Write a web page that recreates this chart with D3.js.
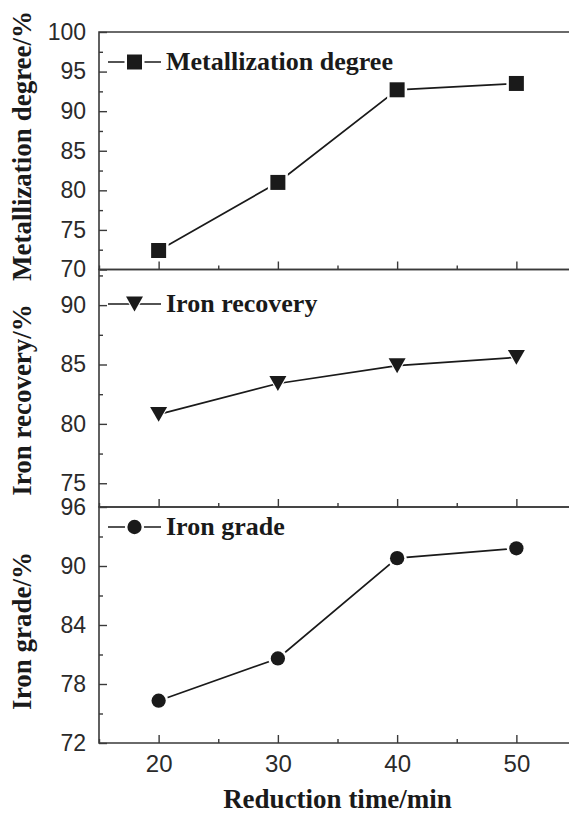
<!DOCTYPE html>
<html>
  <head>
    <meta charset="utf-8">
    <title>reduction time</title>
    <style>
      body { margin: 0; background: #fff; }
      svg { display: block; }
    </style>
  </head>
  <body>
    <script src="https://cdn.jsdelivr.net/npm/d3@7"></script>
    <script>
      // data
      var times = [20, 30, 40, 50];
      var metallization = [72.4, 81.0, 92.7, 93.5];
      var recovery = [80.8, 83.4, 84.9, 85.6];
      var grade = [76.3, 80.6, 90.8, 91.8];

      var xTicks = [20, 30, 40, 50];
      var xMinor = [15, 25, 35, 45, 55];
      var metalTicks = [70, 75, 80, 85, 90, 95, 100];
      var metalMinor = [72.5, 77.5, 82.5, 87.5, 92.5, 97.5];
      var recoveryTicks = [75, 80, 85, 90];
      var recoveryMinor = [77.5, 82.5, 87.5, 92.5];
      var gradeTicks = [72, 78, 84, 90, 96];
      var gradeMinor = [75, 81, 87, 93];

      var width = 569, height = 813;
      var left = 99, right = 576;
      var ink = "#1a1a1a", frame = "#3a3a3a", label = "#2a2a2a";
      var serif = "'Liberation Serif', 'Times New Roman', serif";
      var sans = "'Liberation Sans', Arial, sans-serif";

      var svg = d3.select("body").append("svg")
        .attr("width", width)
        .attr("height", height);

      var x = d3.scaleLinear().domain([15, 55]).range([left, right]);

      var panels = [
        {name: "Metallization degree", title: "Metallization degree/%", values: metallization,
         domain: [70, 100], top: 32, bottom: 269.5, ticks: metalTicks, minor: metalMinor,
         symbol: d3.symbolSquare, size: 225, legendY: 62, titleY: 146},
        {name: "Iron recovery", title: "Iron recovery/%", values: recovery,
         domain: [73, 93], top: 269.5, bottom: 507, ticks: recoveryTicks, minor: recoveryMinor,
         symbol: "down", size: 17, legendY: 304, titleY: 400},
        {name: "Iron grade", title: "Iron grade/%", values: grade,
         domain: [72, 96], top: 507, bottom: 743, ticks: gradeTicks, minor: gradeMinor,
         symbol: d3.symbolCircle, size: 160, legendY: 527, titleY: 631}
      ];

      function markerPath(p, grow) {
        if (p.symbol === "down") {
          var w = (p.size + grow) / 2, h = (p.size + grow) * 0.88;
          return "M" + (-w) + "," + (-h / 2) + "L" + w + "," + (-h / 2) + "L0," + (h / 2) + "Z";
        }
        var s = p.symbol === d3.symbolSquare ? Math.pow(Math.sqrt(p.size) + grow, 2)
                                              : Math.PI * Math.pow(Math.sqrt(p.size / Math.PI) + grow / 2, 2);
        return d3.symbol().type(p.symbol).size(s)();
      }

      function drawMarkers(g, p, pts) {
        // white halo first so the line stops short of the symbol
        g.selectAll(null).data(pts).enter().append("path")
          .attr("transform", function(d) { return "translate(" + d[0] + "," + d[1] + ")"; })
          .attr("d", markerPath(p, 5))
          .attr("fill", "#fff");
        g.selectAll(null).data(pts).enter().append("path")
          .attr("transform", function(d) { return "translate(" + d[0] + "," + d[1] + ")"; })
          .attr("d", markerPath(p, 0))
          .attr("fill", ink);
      }

      panels.forEach(function(p, i) {
        var y = d3.scaleLinear().domain(p.domain).range([p.bottom, p.top]);
        var g = svg.append("g");

        // frame: left, top and bottom (right side falls off the picture)
        g.append("path")
          .attr("d", "M" + width + "," + p.top + "H" + left + "V" + p.bottom + "H" + width)
          .attr("fill", "none").attr("stroke", frame).attr("stroke-width", 1.6);

        // y axis, ticks inside
        var ya = g.append("g").attr("transform", "translate(" + left + ",0)")
          .call(d3.axisLeft(y).tickValues(p.ticks).tickSize(-8).tickPadding(13).tickFormat(d3.format("d")));
        ya.append("g")
          .call(d3.axisLeft(y).tickValues(p.minor).tickSize(-4).tickFormat(""));
        ya.selectAll(".domain").remove();
        ya.selectAll("line").attr("stroke", frame).attr("stroke-width", 1.4);
        ya.selectAll("text")
          .attr("font-family", sans).attr("font-size", 23).attr("fill", label);

        // x ticks at the bottom of every panel
        var xa = g.append("g").attr("transform", "translate(0," + p.bottom + ")")
          .call(d3.axisBottom(x).tickValues(xTicks).tickSize(-8).tickPadding(12)
            .tickFormat(i === panels.length - 1 ? d3.format("d") : ""));
        xa.append("g")
          .call(d3.axisBottom(x).tickValues(xMinor).tickSize(-4).tickFormat(""));
        xa.selectAll(".domain").remove();
        xa.selectAll("line").attr("stroke", frame).attr("stroke-width", 1.4);
        xa.selectAll("text")
          .attr("font-family", sans).attr("font-size", 24).attr("fill", label);

        // series
        var pts = times.map(function(t, k) { return [x(t), y(p.values[k])]; });
        g.append("path")
          .datum(pts)
          .attr("d", d3.line())
          .attr("fill", "none").attr("stroke", ink).attr("stroke-width", 1.7);
        drawMarkers(g, p, pts);

        // legend
        var lg = g.append("g");
        lg.append("line")
          .attr("x1", 108).attr("x2", 161).attr("y1", p.legendY).attr("y2", p.legendY)
          .attr("stroke", ink).attr("stroke-width", 1.7);
        drawMarkers(lg, p, [[134.5, p.legendY]]);
        lg.append("text")
          .attr("x", 166).attr("y", p.legendY + 8)
          .attr("font-family", serif).attr("font-weight", "bold").attr("font-size", 26)
          .attr("fill", ink)
          .text(p.name);

        // y title
        g.append("text")
          .attr("transform", "translate(31," + p.titleY + ") rotate(-90)")
          .attr("text-anchor", "middle")
          .attr("font-family", serif).attr("font-weight", "bold").attr("font-size", 27)
          .attr("fill", ink)
          .text(p.title);
      });

      svg.append("text")
        .attr("x", (left + right) / 2).attr("y", 808)
        .attr("text-anchor", "middle")
        .attr("font-family", serif).attr("font-weight", "bold").attr("font-size", 27)
        .attr("fill", ink)
        .text("Reduction time/min");
    </script>
  </body>
</html>
